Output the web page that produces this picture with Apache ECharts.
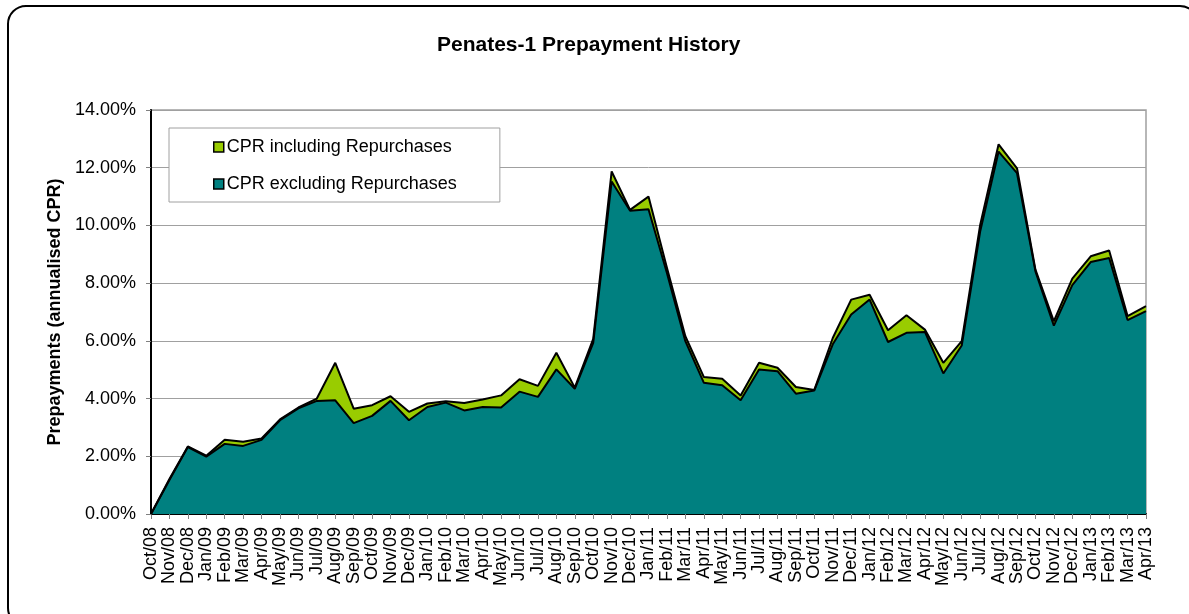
<!DOCTYPE html>
<html>
<head>
    <meta charset="utf-8">
    <title>Penates-1 Prepayment History</title>
    <script src="https://cdn.jsdelivr.net/npm/echarts@6/dist/echarts.min.js"></script>
    <style>
        html, body { margin: 0; padding: 0; background: #fff; }
    </style>
</head>
<body>
    <div id="main" style="width: 1189px;height:614px;"></div>
    <script>
        // months
        var months = ['Oct/08', 'Nov/08', 'Dec/08',
            'Jan/09', 'Feb/09', 'Mar/09', 'Apr/09', 'May/09', 'Jun/09', 'Jul/09', 'Aug/09', 'Sep/09', 'Oct/09', 'Nov/09', 'Dec/09',
            'Jan/10', 'Feb/10', 'Mar/10', 'Apr/10', 'May/10', 'Jun/10', 'Jul/10', 'Aug/10', 'Sep/10', 'Oct/10', 'Nov/10', 'Dec/10',
            'Jan/11', 'Feb/11', 'Mar/11', 'Apr/11', 'May/11', 'Jun/11', 'Jul/11', 'Aug/11', 'Sep/11', 'Oct/11', 'Nov/11', 'Dec/11',
            'Jan/12', 'Feb/12', 'Mar/12', 'Apr/12', 'May/12', 'Jun/12', 'Jul/12', 'Aug/12', 'Sep/12', 'Oct/12', 'Nov/12', 'Dec/12',
            'Jan/13', 'Feb/13', 'Mar/13', 'Apr/13'];

        // CPR in %, incl. repurchases
        var cprIncl = [0, 1.21, 2.34,
            2.02, 2.57, 2.50, 2.62, 3.28, 3.69, 4.00, 5.24, 3.65, 3.77, 4.08, 3.54,
            3.83, 3.91, 3.85, 3.97, 4.11, 4.67, 4.44, 5.59, 4.38, 6.07, 11.87, 10.54,
            11.00, 8.53, 6.16, 4.75, 4.69, 4.11, 5.24, 5.07, 4.40, 4.30, 6.10, 7.43,
            7.60, 6.37, 6.89, 6.39, 5.24, 5.99, 10.02, 12.81, 11.98, 8.47, 6.68, 8.16,
            8.93, 9.13, 6.86, 7.20];

        // CPR in %, excl. repurchases
        var cprExcl = [0, 1.18, 2.32,
            1.99, 2.43, 2.36, 2.57, 3.25, 3.66, 3.92, 3.94, 3.15, 3.40, 3.92, 3.25,
            3.71, 3.86, 3.59, 3.71, 3.69, 4.24, 4.06, 5.01, 4.34, 5.93, 11.52, 10.51,
            10.56, 8.35, 5.99, 4.55, 4.46, 3.94, 5.01, 4.95, 4.17, 4.28, 5.88, 6.91,
            7.43, 5.96, 6.28, 6.31, 4.87, 5.84, 9.79, 12.56, 11.81, 8.41, 6.53, 7.93,
            8.73, 8.87, 6.72, 7.03];

        var font = '"Liberation Sans", Arial, sans-serif';

        var myChart = echarts.init(document.getElementById('main'));

        var option = {
            animation: false,
            backgroundColor: '#fff',
            textStyle: { fontFamily: font },
            graphic: [{
                type: 'rect',
                shape: { x: 8, y: 6, width: 1190, height: 620, r: 18 },
                style: { fill: 'none', stroke: '#000', lineWidth: 2 },
                silent: true
            }],
            title: {
                text: 'Penates-1 Prepayment History',
                left: 437,
                top: 35,
                padding: 0,
                textStyle: { fontSize: 21, fontWeight: 'bold', color: '#000', fontFamily: font }
            },
            legend: {
                orient: 'vertical',
                left: 169,
                top: 128,
                padding: [10, 43, 9, 44],
                itemGap: 19,
                itemWidth: 10,
                itemHeight: 10,
                icon: 'rect',
                backgroundColor: '#fff',
                borderColor: '#a0a0a0',
                borderWidth: 1,
                itemStyle: { borderColor: '#000', borderWidth: 1.5 },
                textStyle: { fontSize: 18, color: '#000', fontFamily: font, padding: [0, 0, 0, -2] },
                data: ['CPR including Repurchases', 'CPR excluding Repurchases']
            },
            grid: {
                left: 151,
                right: 43,
                top: 110,
                bottom: 100,
                show: true,
                borderColor: '#a0a0a0',
                borderWidth: 1.5
            },
            xAxis: {
                type: 'category',
                boundaryGap: false,
                data: months,
                axisLine: { lineStyle: { color: '#000', width: 2 } },
                axisTick: { show: true, interval: 0, length: 5, lineStyle: { color: '#808080' } },
                axisLabel: {
                    interval: 0,
                    rotate: 90,
                    margin: 13,
                    fontSize: 18,
                    color: '#000',
                    fontFamily: font
                }
            },
            yAxis: {
                type: 'value',
                min: 0,
                max: 14,
                interval: 2,
                name: 'Prepayments (annualised CPR)',
                nameLocation: 'middle',
                nameGap: 86,
                nameTextStyle: { fontSize: 18, fontWeight: 'bold', color: '#000', fontFamily: font },
                axisLine: { show: true, lineStyle: { color: '#000', width: 2 } },
                axisTick: { show: true, length: 5, lineStyle: { color: '#808080' } },
                axisLabel: {
                    margin: 15,
                    fontSize: 18,
                    color: '#000',
                    fontFamily: font,
                    formatter: function (v) { return v.toFixed(2) + '%'; }
                },
                splitLine: { lineStyle: { color: '#a0a0a0', width: 1 } }
            },
            series: [{
                name: 'CPR including Repurchases',
                type: 'line',
                data: cprIncl,
                symbol: 'none',
                itemStyle: { color: '#99cc00' },
                lineStyle: { color: '#000', width: 2 },
                areaStyle: { color: '#99cc00', opacity: 1 }
            }, {
                name: 'CPR excluding Repurchases',
                type: 'line',
                data: cprExcl,
                symbol: 'none',
                itemStyle: { color: '#008080' },
                lineStyle: { color: '#000', width: 2 },
                areaStyle: { color: '#008080', opacity: 1 }
            }]
        };

        myChart.setOption(option);
    </script>
</body>
</html>
